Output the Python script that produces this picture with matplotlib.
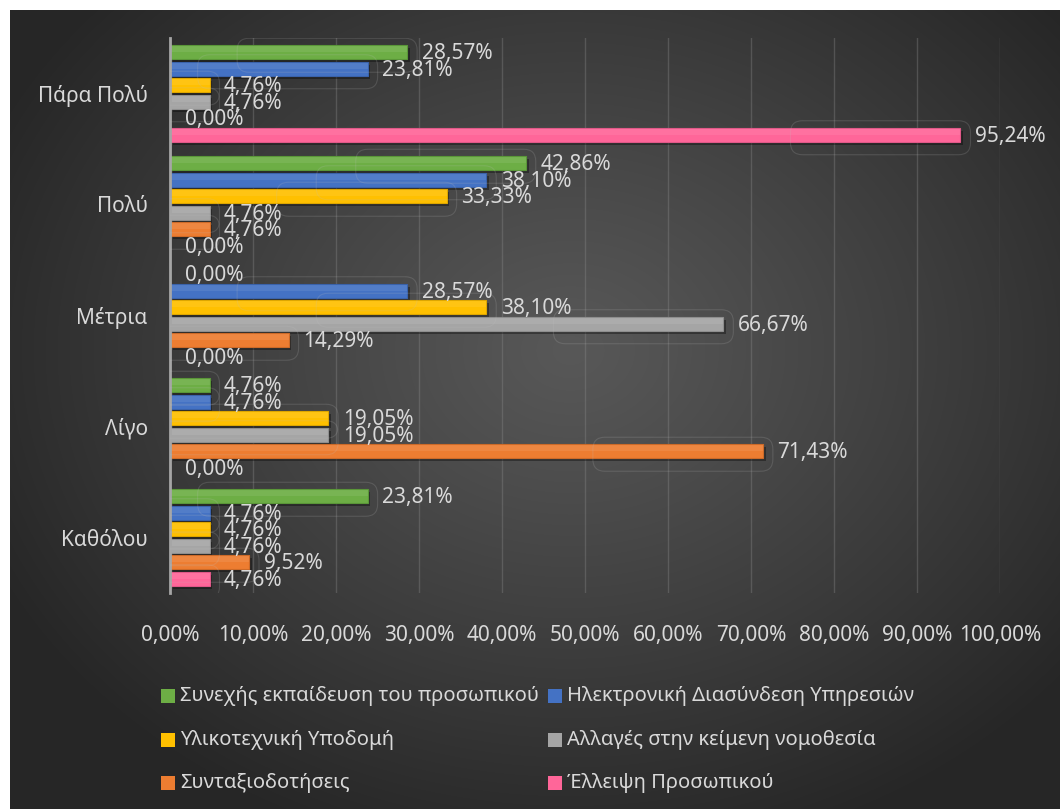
import numpy as np
import matplotlib
matplotlib.use('Agg')
import matplotlib.pyplot as plt
import matplotlib.patheffects as pe
from matplotlib.patches import Rectangle, FancyBboxPatch
from matplotlib.transforms import IdentityTransform

plt.rcParams['font.family'] = ['Noto Sans', 'DejaVu Sans']

categories = ['Καθόλου', 'Λίγο', 'Μέτρια', 'Πολύ', 'Πάρα Πολύ']
series_names = [
    'Συνεχής εκπαίδευση του προσωπικού',
    'Ηλεκτρονική Διασύνδεση Υπηρεσιών',
    'Υλικοτεχνική Υποδομή',
    'Αλλαγές στην κείμενη νομοθεσία',
    'Συνταξιοδοτήσεις',
    'Έλλειψη Προσωπικού',
]
# values per series, ordered like categories (Καθόλου ... Πάρα Πολύ)
training = [23.81, 4.76, 0.00, 42.86, 28.57]
e_link = [4.76, 4.76, 28.57, 38.10, 23.81]
infrastructure = [4.76, 19.05, 38.10, 33.33, 4.76]
legislation = [4.76, 19.05, 66.67, 4.76, 4.76]
retirements = [9.52, 71.43, 14.29, 4.76, 0.00]
understaffing = [4.76, 0.00, 0.00, 0.00, 95.24]
series_values = [training, e_link, infrastructure, legislation, retirements, understaffing]
colors = ['#6DAE45', '#4472C4', '#FFC000', '#A5A5A5', '#ED7D31', '#FF6699']
edges = ['#5A9638', '#3A62AA', '#DDA600', '#8E8E8E', '#CC6A28', '#E05888']
x_ticks = np.arange(0, 101, 10)

TEXT = '#D9D9D9'
W, H = 1060, 809


def px_x(v):
    return v / W


def px_y(v):
    return 1 - v / H


fig = plt.figure(figsize=(W / 100, H / 100), dpi=100)
fig.patch.set_facecolor('white')

# dark radial background
bg = fig.add_axes([px_x(10), 0, 1 - px_x(10), px_y(10)])
gx, gy = np.meshgrid(np.arange(1050), np.arange(799))
d = np.sqrt(((gx - 560) / 640.0) ** 2 + ((gy - 340) / 520.0) ** 2)
shade = 0.345 - (0.345 - 0.150) * np.clip(d, 0, 1) ** 1.1
bg.imshow(np.dstack([shade, shade, shade]), aspect='auto', interpolation='bilinear')
bg.axis('off')

ax = fig.add_axes([px_x(170), px_y(593), px_x(1000) - px_x(170), (593 - 38) / H])
ax.set_facecolor('none')

slot = 0.1486
bar_h = 0.126
y_base = np.arange(len(categories))
offsets = [2.5, 1.5, 0.5, -0.5, -1.5, -2.5]

shadow = [pe.SimplePatchShadow(offset=(2, -2), shadow_rgbFace='black', alpha=0.35), pe.Normal()]

label_spots = []
for vals, off, c, ec in zip(series_values, offsets, colors, edges):
    ys = y_base + off * slot
    bars = ax.barh(ys, vals, height=bar_h, color=c, edgecolor=ec, linewidth=0.8, zorder=3)
    for b in bars:
        b.set_path_effects(shadow)
    # soft highlight on the upper half of each bar
    ax.barh(ys + bar_h * 0.22, vals, height=bar_h * 0.45, color='white', alpha=0.08,
            linewidth=0, zorder=4)
    for y, v in zip(ys, vals):
        label_spots.append((v, y))
        ax.annotate(f'{v:.2f}%'.replace('.', ','), (v, y), xytext=(10.5, -1),
                    textcoords='offset points', va='center', ha='left',
                    fontsize=15, color=TEXT, zorder=6)

ax.set_xlim(0, 100)
ax.set_ylim(-0.5, len(categories) - 0.5)
ax.set_xticks(x_ticks)
ax.set_xticklabels([f'{t:.2f}%'.replace('.', ',') for t in x_ticks])
ax.set_yticks(y_base)
ax.set_yticklabels(categories)
ax.tick_params(axis='x', length=0, pad=23, labelsize=15, labelcolor=TEXT)
ax.tick_params(axis='y', length=0, pad=16, labelsize=15, labelcolor=TEXT)
ax.grid(axis='x', color='#8C8C8C', alpha=0.35, linewidth=1, zorder=0)
for s in ['top', 'right', 'bottom']:
    ax.spines[s].set_visible(False)
ax.spines['left'].set_color('#A6A6A6')
ax.spines['left'].set_linewidth(2)
ax.spines['left'].set_zorder(5)

# faint callout outlines left behind the data labels
for v, y in label_spots:
    if v <= 0:
        continue
    bx, by = ax.transData.transform((v, y))
    box = FancyBboxPatch((bx + 10 - 180, by - 20), 180, 34,
                         boxstyle='round,pad=0,rounding_size=12',
                         transform=IdentityTransform(), facecolor='none',
                         edgecolor='#BFBFBF', alpha=0.18, linewidth=0.8, zorder=2)
    box.set_clip_box(ax.bbox)
    fig.add_artist(box)

# legend, two columns
col_x = [161, 548]
row_y = [696, 740, 783]
for i, (name, c) in enumerate(zip(series_names, colors)):
    x0 = col_x[i % 2]
    y0 = row_y[i // 2]
    fig.add_artist(Rectangle((px_x(x0), px_y(y0 + 7)), px_x(14), 14 / H,
                             transform=fig.transFigure, facecolor=c, edgecolor='none'))
    fig.text(px_x(x0 + 19), px_y(y0), name, fontsize=14.5, color=TEXT, va='center', ha='left')

fig.savefig('out.png', dpi=100)
